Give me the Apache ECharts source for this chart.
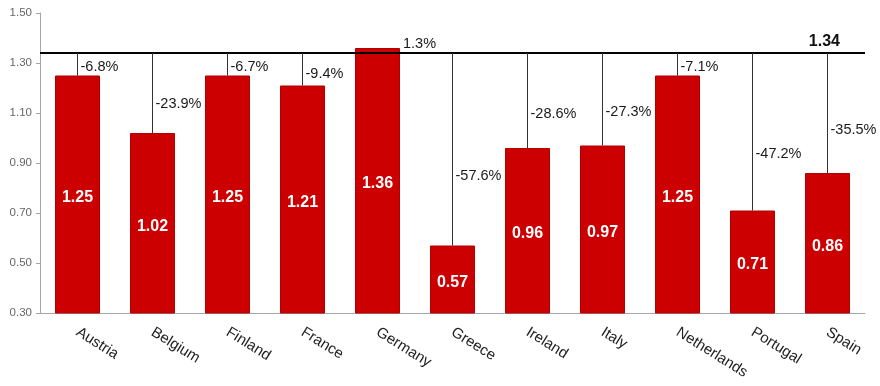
<!DOCTYPE html>
<html><head><meta charset="utf-8">
<script src="https://cdn.jsdelivr.net/npm/echarts@6/dist/echarts.min.js"></script>
<style>html,body{margin:0;padding:0;background:#fff}#c{width:880px;height:386px}</style>
</head><body><div id="c"></div>
<script>
const categories = ['Austria','Belgium','Finland','France','Germany','Greece','Ireland','Italy','Netherlands','Portugal','Spain'];
const values = [1.25,1.02,1.25,1.21,1.36,0.57,0.96,0.97,1.25,0.71,0.86];
const pctLabels = ['-6.8%','-23.9%','-6.7%','-9.4%','1.3%','-57.6%','-28.6%','-27.3%','-7.1%','-47.2%','-35.5%'];
const refValue = 1.34;
const yTicks = {min:0.3, max:1.5, interval:0.2};

const chart = echarts.init(document.getElementById('c'));
const BAR_W = 45;
chart.setOption({
  animation:false,
  grid:{left:40,right:15,top:13,bottom:73},
  xAxis:{type:'category',data:categories,
    axisLine:{lineStyle:{color:'#a6a6a6'}},axisTick:{show:false},
    axisLabel:{rotate:-32,margin:18,fontSize:15,color:'#222',fontFamily:'Liberation Sans, Arial',interval:0}},
  yAxis:{type:'value',min:yTicks.min,max:yTicks.max,interval:yTicks.interval,
    splitLine:{show:false},
    axisLine:{show:true,lineStyle:{color:'#a6a6a6'}},
    axisTick:{show:true,length:4,lineStyle:{color:'#a6a6a6'}},
    axisLabel:{fontSize:11.5,color:'#666',fontFamily:'Liberation Sans, Arial',margin:8,formatter:v=>v.toFixed(2)}},
  series:[
    {type:'bar',data:values,barWidth:BAR_W,z:2,
      itemStyle:{color:'#cc0000',borderColor:'#b00000',borderWidth:1},
      label:{show:true,position:'inside',offset:[0,3],color:'#fff',fontWeight:'bold',fontSize:16,fontFamily:'Liberation Sans, Arial',formatter:p=>p.value.toFixed(2)},
      markLine:{symbol:'none',silent:true,z:3,
        lineStyle:{color:'#000',width:2,type:'solid'},
        label:{show:true,position:'insideEndTop',formatter:()=>refValue.toFixed(2),fontWeight:'bold',fontSize:16,color:'#111',fontFamily:'Liberation Sans, Arial',distance:[25,3]},
        data:[{yAxis:refValue}]}},
    {type:'custom',z:4,
      data:values.map((v,i)=>[i,v]),
      renderItem:(params,api)=>{
        const i=api.value(0), v=api.value(1);
        const top=api.coord([i,v]);
        const ref=api.coord([i,refValue]);
        const children=[];
        if(v<refValue){
          children.push({type:'line',shape:{x1:top[0],y1:ref[1],x2:top[0],y2:top[1]},style:{stroke:'#333',lineWidth:1}});
          const ly=api.coord([i,refValue-0.64*(refValue-v)])[1];
          children.push({type:'text',style:{text:pctLabels[i],x:top[0]+3,y:ly,fill:'#1a1a1a',fontSize:14.5,fontFamily:'Liberation Sans, Arial',verticalAlign:'middle',align:'left'}});
        } else {
          children.push({type:'text',style:{text:pctLabels[i],x:top[0]+BAR_W/2+3,y:ref[1]-2,fill:'#1a1a1a',fontSize:14.5,fontFamily:'Liberation Sans, Arial',verticalAlign:'bottom',align:'left'}});
        }
        return {type:'group',children};
      }}
  ]
});
</script></body></html>
